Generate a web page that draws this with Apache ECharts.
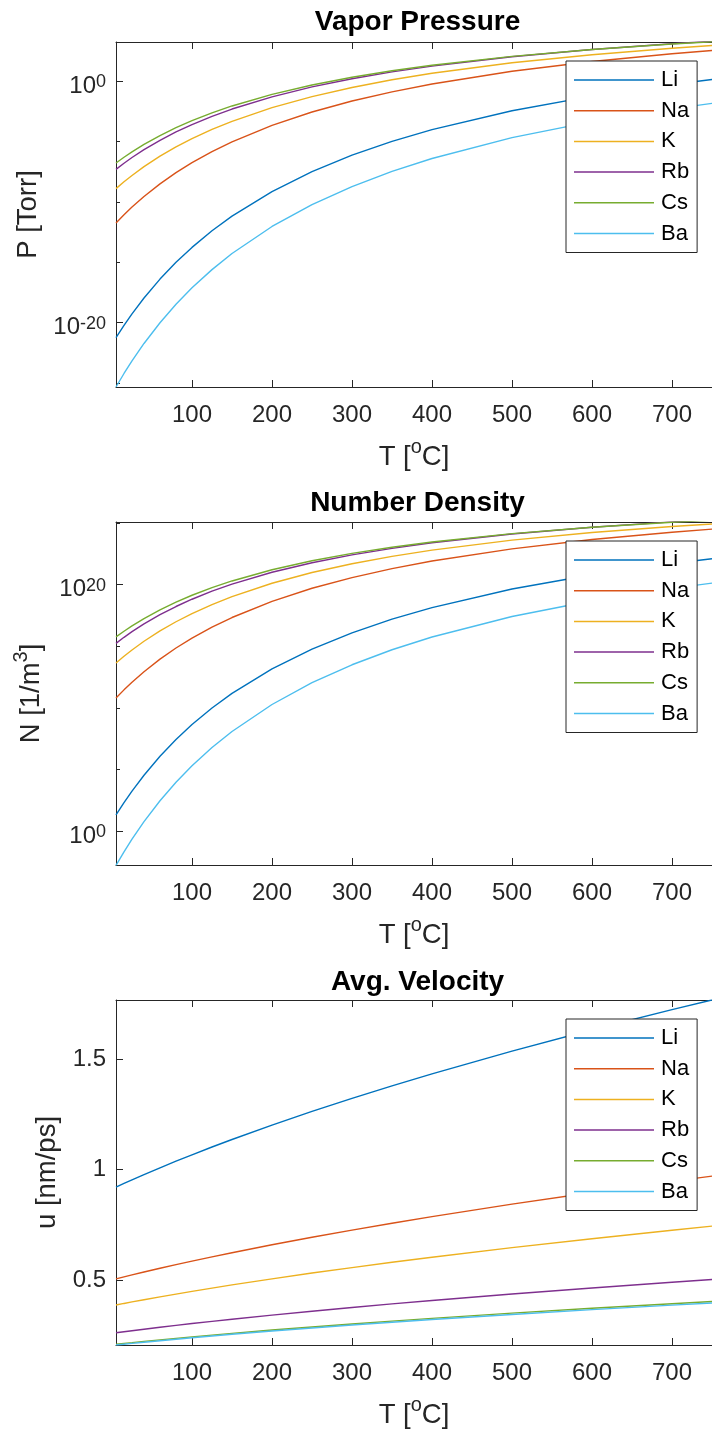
<!DOCTYPE html>
<html>
<head>
<meta charset="utf-8">
<title>Alkali and Ba vapor properties</title>
<script src="https://cdn.jsdelivr.net/npm/echarts@6/dist/echarts.min.js"></script>
<style>
  html, body { margin: 0; padding: 0; background: #ffffff; }
  #chart { width: 712px; height: 1436px; }
</style>
</head>
<body>
<div id="chart"></div>
<script>
// Temperature samples, deg C
const temps = [5, 15, 25, 40, 60, 80, 100, 125, 150, 200, 250, 300, 350, 400, 500, 600, 700, 750];
const elements = ['Li', 'Na', 'K', 'Rb', 'Cs', 'Ba'];
const colors = ['#0072BD', '#D95319', '#EDB120', '#7E2F8E', '#77AC30', '#4DBEEE'];

// Vapor pressure, Torr
const pLi = [5.75e-22, 6.01e-21, 5.35e-20, 1.09e-18, 4.01e-17, 9.77e-16, 1.69e-14, 4.00e-13, 6.50e-12, 7.10e-10, 3.15e-8, 7.23e-7, 1.00e-5, 9.44e-5, 3.49e-3, 5.64e-2, 0.515, 1.32];
const pNa = [1.78e-12, 8.51e-12, 3.67e-11, 2.76e-10, 3.07e-9, 2.59e-8, 1.75e-7, 1.45e-6, 9.31e-6, 2.14e-4, 2.71e-3, 2.20e-2, 0.127, 0.570, 6.37, 40.9, 179, 337];
const pK  = [1.23e-9, 4.52e-9, 1.52e-8, 8.11e-8, 5.97e-7, 3.52e-6, 1.71e-5, 9.86e-5, 4.63e-4, 6.25e-3, 5.14e-2, 0.292, 1.26, 4.35, 32.2, 151, 514, 867];
const pRb = [4.90e-8, 1.57e-7, 4.65e-7, 2.08e-6, 1.24e-5, 6.07e-5, 2.50e-4, 1.20e-3, 4.80e-3, 4.92e-2, 0.324, 1.53, 5.66, 17.2, 103, 411, 1233, 1972];
const pCs = [1.62e-7, 4.89e-7, 1.36e-6, 5.64e-6, 3.06e-5, 1.38e-4, 5.26e-4, 2.33e-3, 8.63e-3, 7.83e-2, 0.466, 2.03, 7.00, 20.0, 110, 406, 1146, 1786];
const pBa = [4.68e-26, 6.15e-25, 6.81e-24, 1.88e-22, 9.84e-21, 3.29e-19, 7.57e-18, 2.44e-16, 5.24e-15, 9.08e-13, 5.89e-11, 1.84e-9, 3.31e-8, 3.88e-7, 2.06e-5, 4.38e-4, 4.97e-3, 1.40e-2];

// Number density, 1/m^3
const nLi = [20.0, 201, 1.73e3, 3.37e4, 1.16e6, 2.67e7, 4.39e8, 9.71e9, 1.48e11, 1.45e13, 5.82e14, 1.22e16, 1.56e17, 1.36e18, 4.37e19, 6.24e20, 5.12e21, 1.25e22];
const nNa = [6.18e10, 2.85e11, 1.19e12, 8.51e12, 8.89e13, 7.10e14, 4.52e15, 3.51e16, 2.12e17, 4.38e18, 5.00e19, 3.71e20, 1.97e21, 8.18e21, 7.96e22, 4.53e23, 1.78e24, 3.18e24];
const nK  = [4.28e13, 1.51e14, 4.92e14, 2.50e15, 1.73e16, 9.62e16, 4.43e17, 2.39e18, 1.06e19, 1.28e20, 9.48e20, 4.92e21, 1.95e22, 6.24e22, 4.03e23, 1.67e24, 5.11e24, 8.18e24];
const nRb = [1.70e15, 5.25e15, 1.50e16, 6.41e16, 3.60e17, 1.66e18, 6.47e18, 2.91e19, 1.09e20, 1.00e21, 5.97e21, 2.59e22, 8.77e22, 2.47e23, 1.29e24, 4.55e24, 1.22e25, 1.86e25];
const nCs = [5.64e15, 1.64e16, 4.42e16, 1.74e17, 8.87e17, 3.77e18, 1.36e19, 5.65e19, 1.97e20, 1.60e21, 8.59e21, 3.43e22, 1.08e23, 2.88e23, 1.37e24, 4.49e24, 1.14e25, 1.69e25];
const nBa = [1.63e-3, 2.06e-2, 0.220, 5.79, 285, 9.00e3, 1.96e5, 5.93e6, 1.19e8, 1.85e10, 1.09e12, 3.10e13, 5.13e14, 5.57e15, 2.57e17, 4.84e18, 4.93e19, 1.32e20];

// Mean thermal velocity, nm/ps
const uLi = [0.9212, 0.9376, 0.9537, 0.9774, 1.0082, 1.0380, 1.0670, 1.1022, 1.1362, 1.2015, 1.2634, 1.3224, 1.3788, 1.4331, 1.5359, 1.6321, 1.7231, 1.7668];
const uNa = [0.5061, 0.5151, 0.5240, 0.5370, 0.5539, 0.5703, 0.5862, 0.6055, 0.6243, 0.6601, 0.6941, 0.7265, 0.7576, 0.7874, 0.8438, 0.8967, 0.9467, 0.9707];
const uK  = [0.3881, 0.3950, 0.4018, 0.4118, 0.4247, 0.4373, 0.4495, 0.4644, 0.4787, 0.5062, 0.5323, 0.5571, 0.5809, 0.6038, 0.6471, 0.6876, 0.7259, 0.7444];
const uRb = [0.2625, 0.2672, 0.2718, 0.2785, 0.2873, 0.2958, 0.3040, 0.3141, 0.3238, 0.3424, 0.3600, 0.3768, 0.3929, 0.4084, 0.4376, 0.4651, 0.4910, 0.5034];
const uCs = [0.2105, 0.2143, 0.2179, 0.2234, 0.2304, 0.2372, 0.2438, 0.2519, 0.2597, 0.2746, 0.2887, 0.3022, 0.3151, 0.3275, 0.3510, 0.3730, 0.3937, 0.4037];
const uBa = [0.2071, 0.2108, 0.2144, 0.2197, 0.2266, 0.2333, 0.2399, 0.2478, 0.2554, 0.2701, 0.2840, 0.2973, 0.3100, 0.3222, 0.3453, 0.3669, 0.3874, 0.3972];

// Axis ranges and ticks
const tRange = [5, 750];
const xTicks = [100, 200, 300, 400, 500, 600, 700];
const pRange = [4.68e-26, 1.7e3];
const pTicks = [1e-20, 1];
const pMinorTicks = [1e-25, 1e-15, 1e-10, 1e-5];
const nRange = [1.74e-3, 1.2e25];
const nTicks = [1, 1e20];
const nMinorTicks = [1e5, 1e10, 1e15, 1e25];
const uTicks = [0.5, 1, 1.5];

const FONT = "'Liberation Sans', Arial, Helvetica, sans-serif";
const INK = '#262626';

// "10" with a raised exponent
const tickRich = {
  b:   { fontSize: 24, lineHeight: 34, verticalAlign: 'bottom', color: INK, fontFamily: FONT },
  sup: { fontSize: 18, verticalAlign: 'top', padding: [9, 0, 0, 0], color: INK, fontFamily: FONT }
};
// axis names with a raised part
const nameRich = {
  b:   { fontSize: 27.5, lineHeight: 41, color: INK, fontFamily: FONT },
  sup: { fontSize: 20, verticalAlign: 'top', color: INK, fontFamily: FONT }
};

const powLabel = v => '{b|10}{sup|' + Math.round(Math.log10(v)) + '}';
const axisLine = { show: true, onZero: false, lineStyle: { color: INK, width: 1 } };

const grids = [
  { left: 116, top: 42, width: 603, height: 345 },
  { left: 116, top: 522, width: 603, height: 343 },
  { left: 116, top: 1000, width: 603, height: 345 }
];

function bottomAxis(g) {
  return {
    type: 'value', gridIndex: g, position: 'bottom', min: tRange[0], max: tRange[1],
    name: '{b|T [}{sup|o}{b|C]}', nameLocation: 'middle', nameGap: 50,
    nameTextStyle: { rich: nameRich },
    axisLine: axisLine,
    axisTick: { show: true, inside: true, length: 7, customValues: xTicks, lineStyle: { color: INK } },
    axisLabel: { customValues: xTicks, fontSize: 24, color: INK, margin: 16, fontFamily: FONT },
    splitLine: { show: false }
  };
}
function topAxis(g) {
  return {
    type: 'value', gridIndex: g, position: 'top', min: tRange[0], max: tRange[1],
    axisLine: axisLine,
    axisTick: { show: true, inside: true, length: 7, customValues: xTicks, lineStyle: { color: INK } },
    axisLabel: { show: false },
    splitLine: { show: false }
  };
}
function logAxis(g, range, ticks, name, gap) {
  return {
    type: 'log', logBase: 10, gridIndex: g, position: 'left', min: range[0], max: range[1],
    name: name, nameLocation: 'middle', nameGap: gap, nameTextStyle: { rich: nameRich },
    axisLine: axisLine,
    axisTick: { show: true, inside: true, length: 7, customValues: ticks, lineStyle: { color: INK } },
    axisLabel: { customValues: ticks, formatter: powLabel, rich: tickRich, margin: 10 },
    splitLine: { show: false }
  };
}
function minorLogAxis(g, range, ticks) {
  return {
    type: 'log', logBase: 10, gridIndex: g, position: 'left', min: range[0], max: range[1],
    axisLine: { show: false },
    axisTick: { show: true, inside: true, length: 4, customValues: ticks, lineStyle: { color: INK } },
    axisLabel: { show: false },
    splitLine: { show: false }
  };
}

function lines(valueSets, xIdx, yIdx) {
  return elements.map((el, i) => ({
    type: 'line', name: el, xAxisIndex: xIdx, yAxisIndex: yIdx,
    data: temps.map((t, k) => [t, valueSets[i][k]]),
    symbol: 'none', silent: true,
    lineStyle: { width: 1.4, color: colors[i] },
    itemStyle: { color: colors[i] }
  }));
}

function legendAt(top) {
  return {
    data: elements, orient: 'vertical', left: 566, top: top,
    icon: 'rect', itemWidth: 80, itemHeight: 1.5, itemGap: 8.7, padding: [8, 8, 8, 8],
    backgroundColor: '#ffffff', borderColor: INK, borderWidth: 1, borderRadius: 0,
    selectedMode: false,
    textStyle: { fontSize: 22, lineHeight: 22, color: '#000000', fontFamily: FONT, padding: [0, 0, 0, 2] }
  };
}

function titleAt(text, top) {
  return {
    text: text, left: 417.5, top: top, textAlign: 'center', padding: 0,
    textStyle: { fontSize: 28, fontWeight: 'bold', color: '#000000', fontFamily: FONT }
  };
}

const option = {
  animation: false,
  backgroundColor: '#ffffff',
  textStyle: { fontFamily: FONT },
  title: [
    titleAt('Vapor Pressure', 8),
    titleAt('Number Density', 489),
    titleAt('Avg. Velocity', 968)
  ],
  legend: [legendAt(61), legendAt(541), legendAt(1019)],
  grid: grids,
  xAxis: [bottomAxis(0), topAxis(0), bottomAxis(1), topAxis(1), bottomAxis(2), topAxis(2)],
  yAxis: [
    logAxis(0, pRange, pTicks, '{b|P [Torr]}', 67),
    minorLogAxis(0, pRange, pMinorTicks),
    logAxis(1, nRange, nTicks, '{b|N [1/m}{sup|3}{b|]}', 64),
    minorLogAxis(1, nRange, nMinorTicks),
    {
      type: 'value', gridIndex: 2, position: 'left', min: 'dataMin', max: 'dataMax',
      name: '{b|u [nm/ps]}', nameLocation: 'middle', nameGap: 45, nameTextStyle: { rich: nameRich },
      axisLine: axisLine,
      axisTick: { show: true, inside: true, length: 7, customValues: uTicks, lineStyle: { color: INK } },
      axisLabel: { customValues: uTicks, fontSize: 24, color: INK, margin: 10, fontFamily: FONT },
      splitLine: { show: false }
    }
  ],
  series: [].concat(
    lines([pLi, pNa, pK, pRb, pCs, pBa], 0, 0),
    lines([nLi, nNa, nK, nRb, nCs, nBa], 2, 2),
    lines([uLi, uNa, uK, uRb, uCs, uBa], 4, 4)
  )
};

const chart = echarts.init(document.getElementById('chart'), null, { renderer: 'canvas' });
chart.setOption(option);
</script>
</body>
</html>
